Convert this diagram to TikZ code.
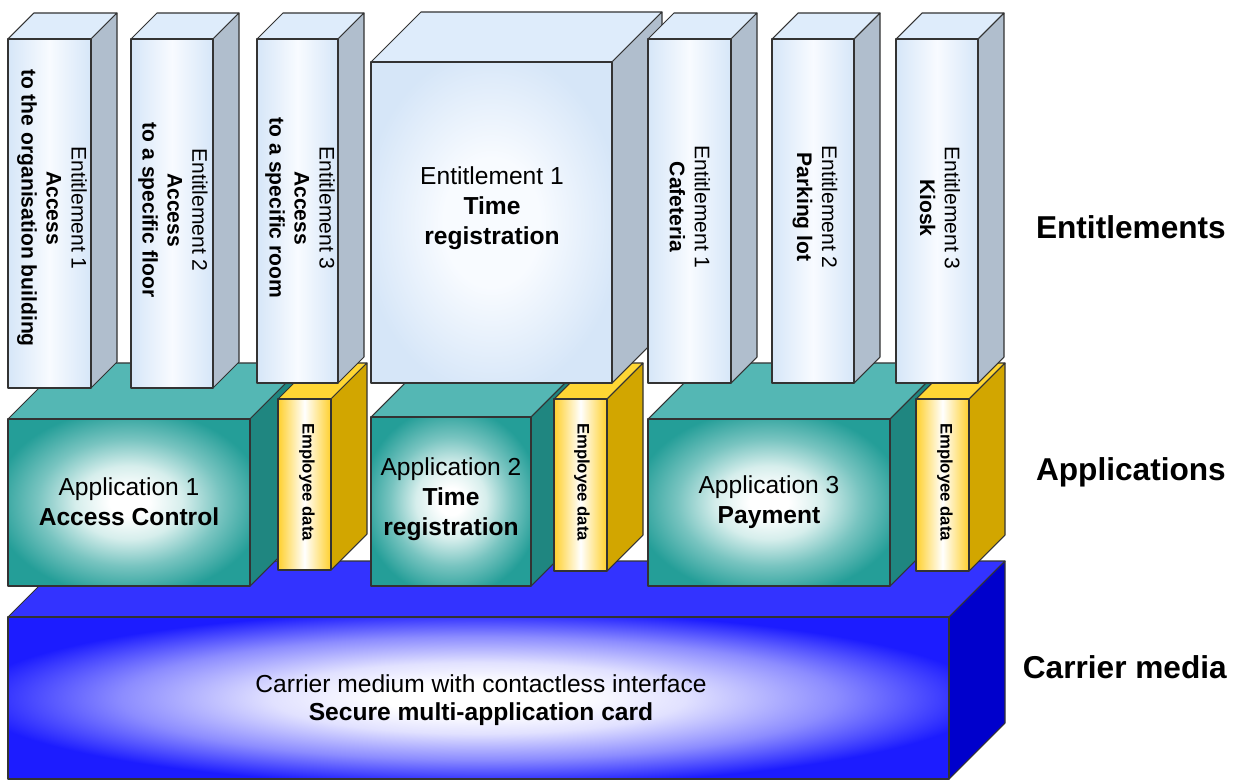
\documentclass[tikz,border=0pt]{standalone}
\usepackage{fontspec}
\setmainfont{Liberation Sans}
\usepackage{tikz}

\definecolor{entBlue}{RGB}{214,230,248}
\definecolor{entLight}{RGB}{248,251,255}
\definecolor{entTop}{RGB}{222,236,251}
\definecolor{entSide}{RGB}{176,190,205}
\definecolor{appTeal}{RGB}{36,158,152}
\definecolor{appMid}{RGB}{120,196,192}
\definecolor{appPale}{RGB}{214,238,236}
\definecolor{appTop}{RGB}{84,183,180}
\definecolor{appSide}{RGB}{31,134,128}
\definecolor{empGold}{RGB}{255,208,45}
\definecolor{empTop}{RGB}{255,214,52}
\definecolor{empSide}{RGB}{210,166,0}
\definecolor{cardBlue}{RGB}{28,28,255}
\definecolor{cardMid}{RGB}{140,140,255}
\definecolor{cardPale}{RGB}{225,225,255}
\definecolor{cardTop}{RGB}{51,51,255}
\definecolor{cardSide}{RGB}{0,0,204}

% glows for the front faces
\pgfdeclareradialshading{appglow}{\pgfpoint{0bp}{0bp}}{color(0bp)=(white); color(4bp)=(white); color(11bp)=(appPale); color(19bp)=(appMid); color(28bp)=(appTeal); color(50bp)=(appTeal)}
\pgfdeclareradialshading{cardglow}{\pgfpoint{0bp}{0bp}}{color(0bp)=(white); color(5bp)=(white); color(11bp)=(cardPale); color(19bp)=(cardMid); color(27bp)=(cardBlue); color(50bp)=(cardBlue)}
\pgfdeclareradialshading{bigglow}{\pgfpoint{0bp}{0bp}}{color(0bp)=(entLight); color(10bp)=(entLight); color(27bp)=(entBlue); color(50bp)=(entBlue)}

% front face (#1,#2)-(#3,#4), depth #5, face styles #6top/#6side/#6front
\newcommand{\layerbox}[6]{%
  \draw[#6top] (#1,#2) -- (#1+#5,#2-#5) -- (#3+#5,#2-#5) -- (#3,#2) -- cycle;
  \draw[#6side] (#3,#2) -- (#3+#5,#2-#5) -- (#3+#5,#4-#5) -- (#3,#4) -- cycle;
  \draw[#6front] (#1,#2) rectangle (#3,#4);
}

\begin{document}
\begin{tikzpicture}[x=0.02cm, y=-0.02cm,
    faceline/.style={draw=black!80, line width=0.6pt, line join=round},
    enttop/.style={faceline, fill=entTop},
    entside/.style={faceline, fill=entSide},
    entfront/.style={faceline, left color=entBlue, right color=entBlue, middle color=entLight},
    bigtop/.style={enttop},
    bigside/.style={entside},
    bigfront/.style={faceline, shading=bigglow},
    apptop/.style={faceline, fill=appTop},
    appside/.style={faceline, fill=appSide},
    appfront/.style={faceline, shading=appglow},
    emptop/.style={faceline, fill=empTop},
    empside/.style={faceline, fill=empSide},
    empfront/.style={faceline, left color=empGold, right color=empGold, middle color=white},
    cardtop/.style={faceline, fill=cardTop},
    cardside/.style={faceline, fill=cardSide},
    cardfront/.style={faceline, shading=cardglow},
    entlabel/.style={rotate=-90, align=center, font=\fontsize{12}{14.2}\selectfont},
    biglabel/.style={align=center, font=\fontsize{14}{17}\selectfont},
    applabel/.style={align=center, font=\fontsize{14}{17}\selectfont},
    emplabel/.style={rotate=-90, font=\fontsize{9.5}{11}\selectfont\bfseries},
    cardlabel/.style={align=center, font=\fontsize{14}{16}\selectfont},
    layer/.style={anchor=base east, font=\fontsize{18}{21}\selectfont\bfseries}
]
    \useasboundingbox (0,0) rectangle (1244,780);

    % carrier medium
    \layerbox{8}{617}{949}{779}{56}{card}
    \node[cardlabel] (card) at (481,700) {Carrier medium with contactless interface\\\textbf{Secure multi-application card}};

    % applications with employee data
    \layerbox{8}{419}{250}{586}{56}{app}
    \layerbox{278}{399}{331}{570}{36}{emp}
    \layerbox{371}{417}{531}{586}{56}{app}
    \layerbox{554}{399}{607}{571}{36}{emp}
    \layerbox{648}{419}{890}{586}{56}{app}
    \layerbox{916}{399}{969}{571}{36}{emp}
    \node[applabel] (app1) at (129,502) {Application 1\\\textbf{Access Control}};
    \node[applabel] (app2) at (451,499) {Application 2\\\textbf{Time}\\\textbf{registration}};
    \node[applabel] (app3) at (769,502) {Application 3\\\textbf{Payment}};
    \node[emplabel] (emp1) at (307,482) {Employee data};
    \node[emplabel] (emp2) at (582,482) {Employee data};
    \node[emplabel] (emp3) at (945,482) {Employee data};

    % entitlements
    \layerbox{8}{39}{91}{388}{26}{ent}
    \layerbox{131}{39}{213}{388}{26}{ent}
    \layerbox{257}{39}{338}{383}{26}{ent}
    \layerbox{371}{62}{612}{383}{50}{big}
    \layerbox{648}{39}{731}{383}{26}{ent}
    \layerbox{772}{39}{854}{383}{26}{ent}
    \layerbox{896}{39}{978}{383}{26}{ent}
    \node[entlabel] (ent1) at (52,208) {Entitlement 1\\\textbf{Access}\\\textbf{to the organisation building}};
    \node[entlabel] (ent2) at (173,210) {Entitlement 2\\\textbf{Access}\\\textbf{to a specific floor}};
    \node[entlabel] (ent3) at (300,208) {Entitlement 3\\\textbf{Access}\\\textbf{to a specific room}};
    \node[biglabel] (ent4) at (492,208) {Entitlement 1\\\textbf{Time}\\\textbf{registration}};
    \node[entlabel] (ent5) at (690,207) {Entitlement 1\\\textbf{Cafeteria}};
    \node[entlabel] (ent6) at (815,207) {Entitlement 2\\\textbf{Parking lot}};
    \node[entlabel] (ent7) at (940,208) {Entitlement 3\\\textbf{Kiosk}};

    % layer names
    \node[layer] (lent) at (1232,239) {Entitlements};
    \node[layer] (lapp) at (1232,480) {Applications};
    \node[layer] (lcard) at (1233,678) {Carrier media};
\end{tikzpicture}
\end{document}
